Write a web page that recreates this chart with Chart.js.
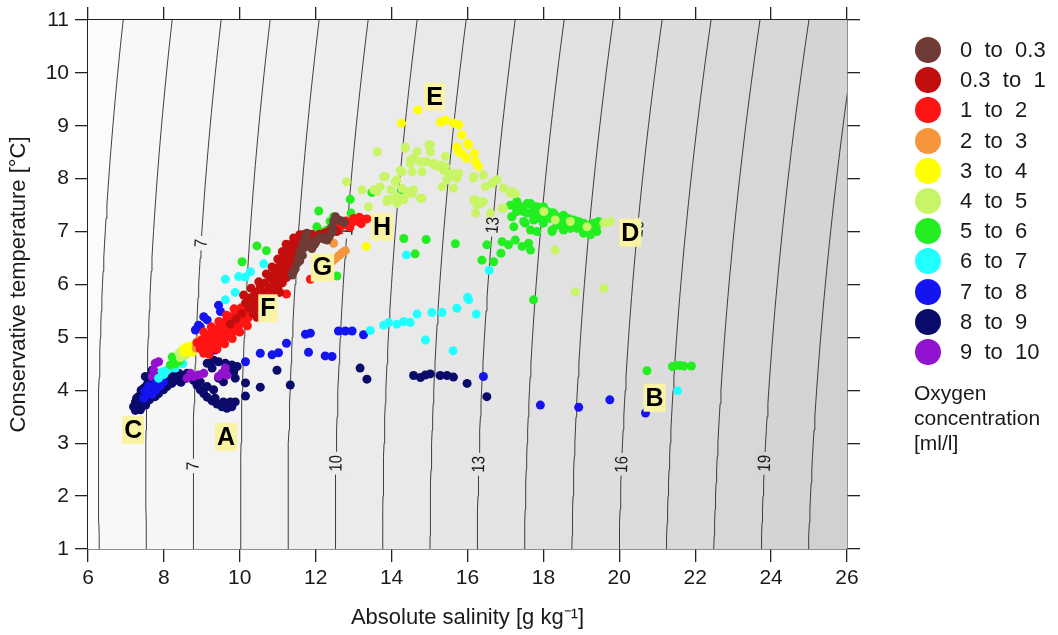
<!DOCTYPE html>
<html>
<head>
<meta charset="utf-8">
<script src="https://cdn.jsdelivr.net/npm/chart.js@4.4.1/dist/chart.umd.min.js"></script>
<style>
  html, body { margin: 0; padding: 0; background: #fff; }
  #wrap { position: relative; width: 1058px; height: 635px; }
  #ts { position: absolute; left: 0; top: 0; }
  .leg { position: absolute; font-family: "Liberation Sans", Arial, sans-serif; color: #1a1a1a; white-space: pre; }
  .dot { position: absolute; width: 26px; height: 26px; border-radius: 50%; }
</style>
</head>
<body>
<div id="wrap">
  <canvas id="ts" width="1058" height="635"></canvas>
  <div id="legend"></div>
</div>
<script>
// oxygen classes
const CLASS_LABELS = ['0  to  0.3', '0.3  to  1', '1  to  2', '2  to  3', '3  to  4', '4  to  5',
    '5  to  6', '6  to  7', '7  to  8', '8  to  9', '9  to  10'];
const CLASS_COLORS = ['#6e3b36', '#c40e0e', '#ff1414', '#f6953c', '#ffff00', '#c8f566',
    '#22ee22', '#22ffff', '#1414f0', '#0b0b6b', '#9212d0'];

// [absolute salinity, conservative temperature]
const o2_0_03 = [[11.38,6.18],[11.42,6.25],[11.46,6.3],[11.51,6.4],[11.55,6.53],[11.58,6.45],[11.6,6.65],
    [11.66,6.78],[11.72,6.9],[11.77,6.97],[11.85,6.8],[11.9,6.68],[11.97,6.76],[12.0,6.8],[12.05,6.86],
    [12.14,6.9],[12.22,6.86],[12.3,6.84],[12.35,6.9],[12.38,6.95],[12.43,7.08],[12.45,7.0],[12.47,7.19],
    [12.52,7.28],[12.6,7.22],[12.68,7.2],[12.75,7.17],[11.65,6.55],[11.7,6.7]];
const o2_03_1 = [[10.25,5.55],[10.38,5.65],[10.51,5.75],[10.64,5.84],[10.77,5.93],[10.9,6.03],[11.02,6.13],
    [11.13,6.23],[11.24,6.34],[11.32,6.46],[11.4,6.58],[11.47,6.7],[11.53,6.82],[11.58,6.94],
    [10.15,5.65],[10.28,5.75],[10.41,5.85],[10.54,5.94],[10.67,6.03],[10.8,6.13],[10.92,6.23],[11.03,6.33],
    [11.14,6.44],[11.2,6.52],[11.28,6.64],[11.35,6.76],[11.42,6.88],
    [10.35,5.45],[10.48,5.55],[10.61,5.65],[10.74,5.74],[10.87,5.83],[11.0,5.93],[11.12,6.03],[11.23,6.13],
    [11.34,6.24],[11.44,6.4],[11.52,6.52],[11.6,6.64],[11.66,6.76],[11.7,6.88],
    [10.1,5.8],[10.3,5.93],[10.5,6.05],[10.7,6.2],[10.85,6.33],[11.0,6.48],[11.12,6.62],[11.22,6.76],
    [10.45,5.38],[10.65,5.52],[10.85,5.68],[11.05,5.85],
    [9.9,5.35],[10.05,5.45],[9.75,5.25],
    [11.8,6.75],[11.95,6.85],[12.1,6.95],[12.25,6.98],[12.4,7.05],[12.55,7.0],[11.7,6.95],[11.9,6.95]];
const o2_1_2 = [[8.95,4.79],[9.08,4.85],[9.21,4.92],[9.34,4.98],[9.47,5.05],[9.6,5.13],[9.73,5.21],[9.86,5.29],
    [9.99,5.37],[10.12,5.46],
    [8.87,4.9],[9.0,4.95],[9.13,5.02],[9.26,5.08],[9.39,5.15],[9.52,5.23],[9.65,5.31],[9.78,5.39],[9.91,5.47],
    [10.04,5.56],
    [9.05,4.7],[9.18,4.76],[9.31,4.82],[9.44,4.89],[9.57,4.96],[9.7,5.04],[9.83,5.12],[9.96,5.2],[10.09,5.28],
    [10.22,5.37],
    [9.05,5.1],[9.25,5.2],[9.45,5.3],[9.65,5.42],[9.85,5.54],
    [9.2,4.68],[9.4,4.78],[9.6,4.88],[9.8,4.98],[10.0,5.1],[10.2,5.22],
    [11.23,5.82],[11.86,6.1],
    [12.2,6.95],[12.35,7.0],[12.5,7.05],[12.65,7.1],[12.8,7.13],[12.95,7.17],[13.1,7.2],[13.25,7.23],
    [13.35,7.24],[12.8,7.2],[13.0,7.25],[13.15,7.27],[12.6,7.02],[12.9,7.08],[13.2,7.15]];
const o2_2_3 = [[8.88,4.86],[8.95,4.9],[8.98,4.82],[9.02,4.93],[8.92,4.95],[8.85,4.8],
    [12.45,6.45],[12.53,6.5],[12.62,6.55],[12.7,6.6],[12.78,6.64],[12.47,6.78]];
const o2_3_4 = [[8.55,4.72],[8.63,4.76],[8.72,4.8],[8.62,4.83],[8.75,4.72],[8.52,4.78],[8.8,4.86],
    [14.69,9.3],[14.26,9.05],[15.29,9.07],[15.42,9.11],[15.63,9.05],[15.77,9.02],[15.85,8.83],[16.0,8.67],
    [15.72,8.6],[15.77,8.51],[15.97,8.39],[16.18,8.48],[16.21,8.32],[16.29,8.23],[13.33,6.72],[15.85,8.48],
    [16.03,8.64]];
const o2_4_5 = [[8.43,4.62],[8.5,4.68],[8.4,4.7],[8.57,4.66],[8.47,4.75],
    [13.62,8.51],[12.81,7.94],[13.22,7.79],[13.53,7.79],[13.7,7.85],[13.83,8.04],[14.14,7.98],[14.23,8.16],
    [14.36,8.57],[14.49,8.35],[14.67,8.51],[14.58,8.39],[14.76,8.32],[14.89,8.32],[14.98,8.64],[15.02,8.51],
    [15.11,8.26],[15.24,8.23],[15.37,8.16],[15.42,8.42],[15.5,8.07],[15.63,8.1],[15.72,8.01],[15.33,7.85],
    [15.63,7.82],[14.41,7.72],[14.58,7.79],[14.76,7.63],[13.97,7.6],[14.14,7.66],[14.27,7.6],[16.16,8.01],
    [16.42,8.07],[16.47,7.85],[16.69,7.94],[16.95,7.82],[17.17,7.76],[16.21,7.6],[16.25,7.5],[16.42,7.57],
    [16.21,7.35],[16.6,7.35],[16.95,7.44],[18.31,6.65],[18.84,5.86],[19.59,5.93],[19.59,7.16],[19.76,7.19],
    [13.39,7.47],[13.88,7.57],[14.14,7.53],
    [14.36,8.6],[15.02,8.64],[14.58,8.38],[14.76,8.32],[14.93,8.32],[15.11,8.29],[15.28,8.26],[15.42,8.23],
    [14.49,8.29],[14.27,8.13],[14.54,8.13],[14.8,8.13],[15.55,8.1],[15.68,8.04],[15.77,8.1],[15.46,7.98],
    [13.79,8.04],[14.1,7.94],[13.98,7.79],[14.27,7.82],[14.41,7.76],[14.54,7.72],[13.88,7.6],[14.14,7.57],
    [14.32,7.6],[14.8,7.63],[16.16,8.04],[16.64,7.91],[16.78,7.98],[17.13,7.72],[17.26,7.72],[16.16,7.6],
    [16.34,7.53],[16.91,7.44],[18.01,7.38],[18.31,7.22],[18.71,7.19],[19.15,7.09],[13.62,7.76]];
const o2_5_6 = [[8.17,4.48],[8.25,4.55],[8.33,4.6],[8.4,4.55],[8.22,4.63],[8.3,4.5],
    [17.13,7.5],[17.3,7.53],[17.44,7.47],[17.57,7.53],[17.7,7.5],[17.83,7.47],[17.92,7.41],[18.1,7.38],
    [18.23,7.35],[18.36,7.28],[18.53,7.31],[18.66,7.25],[18.8,7.22],[18.93,7.19],[19.06,7.16],[19.19,7.12],
    [19.32,7.09],[19.41,7.0],[19.24,6.97],[19.06,7.03],[18.89,7.06],[18.71,7.09],[18.53,7.16],[18.36,7.16],
    [18.18,7.25],[18.0,7.28],[17.83,7.25],[17.66,7.35],[17.48,7.38],[17.3,7.41],[17.17,7.28],[17.52,7.16],
    [17.66,7.03],[17.83,7.0],[18.23,7.0],[18.71,7.19],[18.97,7.12],[19.32,7.16],[19.45,7.19],
    [17.3,7.57],[17.66,7.53],[17.83,7.44],[18.0,7.47],[17.3,7.38],[17.57,7.35],[17.83,7.31],[18.1,7.28],
    [18.27,7.35],[18.45,7.25],[18.62,7.22],[18.8,7.16],[18.97,7.12],[19.15,7.06],[19.32,7.03],[19.41,7.12],
    [18.36,7.12],[18.71,7.06],[19.06,6.97],[19.24,6.94],[18.53,7.03],[17.17,7.28],[17.48,7.19],[17.74,7.22],
    [18.0,7.16],[18.23,7.03],[17.22,7.09],
    [16.91,6.81],[17.08,6.75],[17.26,6.84],[17.44,6.72],[17.61,6.78],[17.66,6.65],[16.51,6.75],[16.88,6.59],
    [16.38,6.46],[16.69,6.43],[15.68,6.77],[14.91,6.85],[14.32,6.87],[14.62,6.58],[17.74,5.71],[13.48,7.74],
    [12.91,7.61],[14.25,7.79],[12.93,7.35],[12.56,6.16],[12.08,7.39],[12.03,7.09],[12.12,7.0],[12.3,7.03],
    [12.38,7.19],[11.17,6.64],[10.7,6.64],[10.45,6.73],[10.06,6.43],[12.47,7.28],
    [20.73,4.37],[21.4,4.45],[21.5,4.47],[21.6,4.47],[21.7,4.46],[21.9,4.46]];
const o2_6_7 = [[9.62,6.1],[9.97,6.15],[10.14,6.14],[10.28,6.24],[9.88,5.85],[9.62,5.71],[10.63,6.39],
    [14.39,6.56],[16.57,6.27],[16.0,5.76],[15.72,5.55],[13.44,5.13],[13.79,5.23],[13.92,5.28],[14.14,5.25],
    [14.32,5.3],[14.49,5.28],[14.67,5.44],[15.06,5.47],[15.33,5.47],[14.89,4.95],[16.03,5.71],[15.62,4.75],
    [16.23,5.44],[21.54,3.99],
    [7.95,4.35],[8.08,4.38],[8.3,4.42],[8.5,4.5],[7.86,4.23],[8.0,4.3],[8.18,4.42]];
const o2_7_8 = [[9.44,5.61],[9.49,5.49],[9.05,5.39],[9.14,5.33],[8.91,5.23],[8.83,5.14],[8.96,5.2],
    [9.35,4.76],[10.15,4.54],[9.27,4.76],
    [7.64,4.0],[7.73,3.97],[7.55,3.94],[7.86,4.1],[7.99,4.16],[7.47,3.85],[7.7,4.05],[7.8,4.15],
    [7.6,4.08],[7.68,3.92],[7.78,4.0],[7.9,4.08],[7.5,3.98],
    [10.54,4.7],[10.85,4.67],[11.02,4.71],[11.23,4.89],[11.73,5.06],[11.86,5.08],[11.81,4.72],[12.25,4.65],
    [12.43,4.64],[12.6,5.12],[12.78,5.12],[12.96,5.12],[13.26,5.05],
    [16.42,4.26],[17.92,3.72],[18.93,3.68],[19.75,3.82],[20.69,3.57]];
const o2_8_9 = [[14.58,4.28],[14.76,4.24],[14.89,4.29],[15.02,4.31],[15.28,4.28],[15.46,4.28],[15.63,4.25],
    [15.99,4.13],[16.51,3.88],[10.98,4.38],[11.33,4.1],[10.54,4.06],[13.17,4.42],[13.35,4.21],
    [7.2,3.69],[7.29,3.66],[7.38,3.63],[7.25,3.78],[7.33,3.88],[7.42,3.94],[7.47,3.75],[7.55,3.82],
    [7.47,4.04],[7.6,4.16],[7.64,4.26],[7.77,3.88],[7.86,3.94],[7.99,4.01],[8.08,4.07],[8.21,4.13],
    [8.35,4.19],[8.48,4.26],[8.61,4.32],[7.73,4.1],[7.51,4.26],[7.69,4.38],[7.38,3.91],
    [7.3,3.75],[7.4,3.8],[7.5,3.9],[7.6,3.95],[7.7,4.05],[7.8,4.12],[7.9,4.2],[8.0,4.22],[8.1,4.25],
    [8.2,4.3],[8.3,4.28],[8.4,4.32],[7.35,3.7],[7.45,3.72],[7.55,3.85],
    [7.25,3.62],[7.4,3.68],[7.52,3.72],[7.62,3.82],[7.72,3.9],[7.82,3.98],[7.92,4.05],[8.02,4.1],[8.12,4.15],
    [8.25,4.2],[8.45,4.15],[8.55,4.22],[7.28,3.85],[7.4,4.0],[7.55,4.1],[7.65,4.2],[7.8,4.3],
    [8.7,4.29],[8.78,4.19],[8.87,4.1],[8.96,4.01],[9.05,3.94],[9.14,3.87],[9.27,3.8],[9.4,3.74],
    [9.53,3.69],[9.66,3.66],[9.79,3.69],[9.88,3.78],[9.75,3.78],[9.57,3.78],[9.35,3.85],[8.87,4.26],
    [8.96,4.16],[9.14,4.07],[9.31,4.01],[9.14,4.51],[9.31,4.57],[9.44,4.54],[9.62,4.51],[9.79,4.48],
    [9.93,4.45],[9.84,4.35],[9.7,4.38],[9.88,4.23],[9.27,4.42],[10.15,4.14],[10.15,3.89],[9.44,4.23],
    [9.57,4.16]];
const o2_9_10 = [[7.77,4.51],[7.86,4.54],[7.73,4.38],[7.69,4.26],[8.7,4.32],[8.78,4.26],[8.91,4.29],
    [9.05,4.32],[9.44,4.26],[9.53,4.32],[9.66,4.29],[9.62,4.42],[8.61,4.23]];

const SERIES = [o2_0_03, o2_03_1, o2_1_2, o2_2_3, o2_3_4, o2_4_5, o2_5_6, o2_6_7, o2_7_8, o2_8_9, o2_9_10];

// isopycnals (sigma0, kg/m3) and where their labels sit (temperature)
const DENSITY_LEVELS = [5, 6, 7, 8, 9, 10, 11, 12, 13, 14, 15, 16, 17, 18, 19, 20];
const DENSITY_LABELS = [[7, 2.57], [10, 2.62], [13, 2.6], [16, 2.6], [19, 2.62], [7, 6.78], [10, 7.08], [13, 7.12], [16, 7.05]];

// water mass letters
const MARKERS = [['A', 9.64, 3.12], ['B', 20.93, 3.86], ['C', 7.19, 3.25], ['D', 20.29, 6.98],
    ['E', 15.13, 9.55], ['F', 10.74, 5.55], ['G', 12.18, 6.32], ['H', 13.75, 7.09]];

const FONT = '"Liberation Sans", Arial, sans-serif';

// EOS-80 density at surface pressure
function sigma0(S, T) {
    const rw = 999.842594 + 6.793952e-2 * T - 9.09529e-3 * T * T + 1.001685e-4 * T ** 3
        - 1.120083e-6 * T ** 4 + 6.536332e-9 * T ** 5;
    const a = 0.824493 - 4.0899e-3 * T + 7.6438e-5 * T * T - 8.2467e-7 * T ** 3 + 5.3875e-9 * T ** 4;
    const b = -5.72466e-3 + 1.0227e-4 * T - 1.6546e-6 * T * T;
    return rw + a * S + b * S ** 1.5 + 4.8314e-4 * S * S - 1000;
}

function salinityAt(level, T) {
    let lo = 0, hi = 40;
    for (let i = 0; i < 50; i++) {
        const mid = (lo + hi) / 2;
        if (sigma0(mid, T) < level) lo = mid; else hi = mid;
    }
    return (lo + hi) / 2;
}

const contours = DENSITY_LEVELS.map(lv => {
    const pts = [];
    for (let T = 0.5; T <= 11.51; T += 0.25) pts.push({ x: salinityAt(lv, T), y: T });
    return pts;
});

function bandGrey(i) {
    const g = Math.round(251 - i * 2.6);
    return `rgb(${g},${g},${g})`;
}

const bandPlugin = {
    id: 'bands',
    beforeDatasetsDraw(chart) {
        const { ctx, chartArea: a, scales: { x, y } } = chart;
        ctx.save();
        ctx.beginPath();
        ctx.rect(a.left, a.top, a.width, a.height);
        ctx.clip();
        ctx.fillStyle = bandGrey(0);
        ctx.fillRect(a.left, a.top, a.width, a.height);
        contours.forEach((pts, i) => {
            ctx.beginPath();
            pts.forEach((p, j) => {
                const px = x.getPixelForValue(p.x), py = y.getPixelForValue(p.y);
                if (j === 0) ctx.moveTo(px, py); else ctx.lineTo(px, py);
            });
            ctx.lineTo(a.right + 60, y.getPixelForValue(pts[pts.length - 1].y));
            ctx.lineTo(a.right + 60, y.getPixelForValue(pts[0].y));
            ctx.closePath();
            ctx.fillStyle = bandGrey(i + 1);
            ctx.fill();
        });
        ctx.restore();
    }
};

const CONTOUR_START = SERIES.length;

const labelPlugin = {
    id: 'isoLabels',
    afterDatasetDraw(chart, args) {
        if (args.index !== CONTOUR_START) return;
        const { ctx, chartArea: a, scales: { x, y } } = chart;
        ctx.save();
        ctx.beginPath();
        ctx.rect(a.left, a.top, a.width, a.height);
        ctx.clip();
        ctx.font = '15px ' + FONT;
        ctx.textAlign = 'center';
        ctx.textBaseline = 'middle';
        DENSITY_LABELS.forEach(([lv, T]) => {
            const px = x.getPixelForValue(salinityAt(lv, T)), py = y.getPixelForValue(T);
            const x1 = x.getPixelForValue(salinityAt(lv, T - 0.4)), y1 = y.getPixelForValue(T - 0.4);
            const x2 = x.getPixelForValue(salinityAt(lv, T + 0.4)), y2 = y.getPixelForValue(T + 0.4);
            const ang = Math.atan2(y2 - y1, x2 - x1);
            const txt = String(lv);
            const w = ctx.measureText(txt).width;
            ctx.save();
            ctx.translate(px, py);
            ctx.rotate(ang);
            ctx.scale(1, 1.2);
            ctx.fillStyle = bandGrey(lv - 4);
            ctx.fillRect(-w / 2 - 3, -7, w + 6, 14);
            ctx.fillStyle = '#1a1a1a';
            ctx.fillText(txt, 0, 0.5);
            ctx.restore();
        });
        ctx.restore();
    },
    afterDatasetsDraw(chart) {
        const { ctx, scales: { x, y } } = chart;
        ctx.save();
        ctx.font = 'bold 25px ' + FONT;
        ctx.textAlign = 'center';
        ctx.textBaseline = 'middle';
        MARKERS.forEach(([t, S, T]) => {
            const px = x.getPixelForValue(S), py = y.getPixelForValue(T);
            const w = ctx.measureText(t).width + 4;
            ctx.fillStyle = '#f9f3a3';
            ctx.fillRect(px - w / 2, py - 14, w, 28);
            ctx.fillStyle = '#000';
            ctx.fillText(t, px, py + 1);
        });
        ctx.restore();
    }
};

const pointSets = SERIES.map((arr, i) => ({
    label: CLASS_LABELS[i],
    data: arr.map(p => ({ x: p[0], y: p[1] })),
    backgroundColor: CLASS_COLORS[i],
    borderWidth: 0,
    pointRadius: 4.5,
    order: i === 9 ? 1 : 0
}));

const lineSets = contours.map(pts => ({
    label: '',
    data: pts,
    showLine: true,
    borderColor: '#2a2a2a',
    borderWidth: 0.9,
    pointRadius: 0,
    order: 5
}));

const axisGrid = { drawOnChartArea: false, tickLength: 13, color: '#222', lineWidth: 1.3 };
const axisBorder = { display: true, color: '#222', width: 1.5 };

new Chart(document.getElementById('ts'), {
    type: 'scatter',
    data: { datasets: [...pointSets, ...lineSets] },
    options: {
        responsive: false,
        animation: false,
        layout: { padding: 0 },
        plugins: { legend: { display: false }, tooltip: { enabled: false } },
        scales: {
            x: {
                type: 'linear', position: 'bottom', min: 6, max: 26, z: 1,
                afterFit: s => { s.height = 86; },
                ticks: { stepSize: 2, color: '#1a1a1a', font: { family: FONT, size: 21 }, padding: 4 },
                grid: axisGrid, border: axisBorder,
                title: { display: true, text: 'Absolute salinity [g kg⁻¹]', color: '#1a1a1a',
                    font: { family: FONT, size: 22 }, padding: { top: 4, bottom: 4 } }
            },
            xTop: {
                type: 'linear', position: 'top', min: 6, max: 26, z: 1,
                afterFit: s => { s.height = 20; },
                ticks: { stepSize: 2, display: false },
                grid: axisGrid, border: axisBorder
            },
            y: {
                type: 'linear', position: 'left', min: 1, max: 11, z: 1,
                afterFit: s => { s.width = 88; },
                ticks: { stepSize: 1, color: '#1a1a1a', font: { family: FONT, size: 21 }, padding: 6 },
                grid: axisGrid, border: axisBorder,
                title: { display: true, text: 'Conservative temperature [°C]', color: '#1a1a1a',
                    font: { family: FONT, size: 22 }, padding: { top: 6, bottom: 0 } }
            },
            yRight: {
                type: 'linear', position: 'right', min: 1, max: 11, z: 1,
                afterFit: s => { s.width = 211; },
                ticks: { stepSize: 1, display: false },
                grid: axisGrid, border: axisBorder
            }
        }
    },
    plugins: [bandPlugin, labelPlugin]
});

// legend
const legend = document.getElementById('legend');
CLASS_LABELS.forEach((lab, i) => {
    const cy = 50 + i * 30.2;
    const dot = document.createElement('div');
    dot.className = 'dot';
    dot.style.left = '915px';
    dot.style.top = (cy - 13) + 'px';
    dot.style.background = CLASS_COLORS[i];
    legend.appendChild(dot);
    const t = document.createElement('div');
    t.className = 'leg';
    t.style.left = '960px';
    t.style.top = (cy - 13) + 'px';
    t.style.lineHeight = '26px';
    t.style.fontSize = '22px';
    t.textContent = lab;
    legend.appendChild(t);
});
const note = document.createElement('div');
note.className = 'leg';
note.style.left = '914px';
note.style.top = '380px';
note.style.lineHeight = '25px';
note.style.fontSize = '21px';
note.textContent = 'Oxygen\nconcentration\n[ml/l]';
legend.appendChild(note);
</script>
</body>
</html>
